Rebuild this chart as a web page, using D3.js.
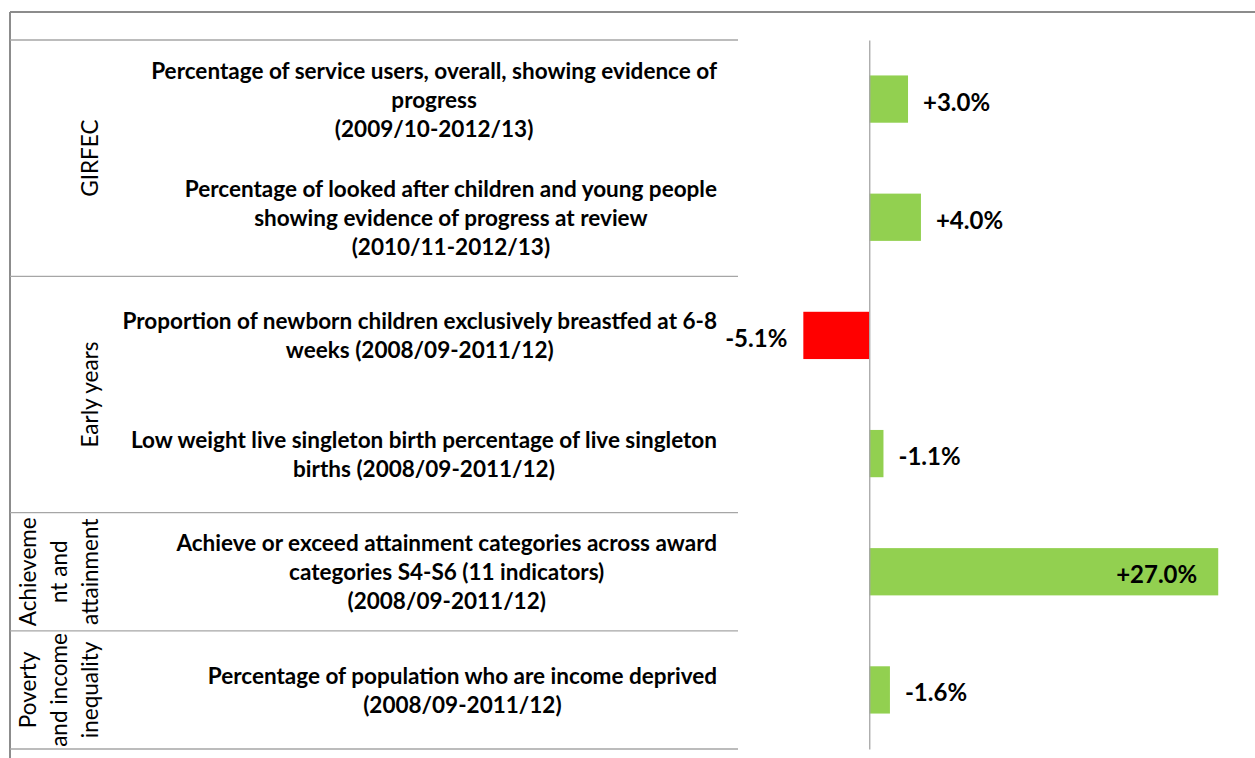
<!DOCTYPE html>
<html>
<head>
<meta charset="utf-8">
<script src="https://cdn.jsdelivr.net/npm/d3@7"></script>
<style>
  body { margin: 0; background: #fff; }
  text { font-family: Lato, "Open Sans", sans-serif; fill: #000; }
</style>
</head>
<body>
<div id="chart"></div>
<script>
// category labels, already wrapped the way the picture shows them
const categories = [
  ["Percentage of service users, overall, showing evidence of", "progress", "(2009/10-2012/13)"],
  ["Percentage of looked after children and young people", "showing evidence of progress at review", "(2010/11-2012/13)"],
  ["Proportion of newborn children exclusively breastfed at 6-8", "weeks (2008/09-2011/12)"],
  ["Low weight live singleton birth percentage of live singleton", "births (2008/09-2011/12)"],
  ["Achieve or exceed attainment categories across award", "categories S4-S6 (11 indicators)", "(2008/09-2011/12)"],
  ["Percentage of population who are income deprived", "(2008/09-2011/12)"]
];
// bar length = change in the good direction
const values = [3.0, 4.0, -5.1, 1.1, 27.0, 1.6];
const valueLabels = ["+3.0%", "+4.0%", "-5.1%", "-1.1%", "+27.0%", "-1.6%"];

const groupNames = [["GIRFEC"], ["Early years"], ["Achieveme", "nt and", "attainment"], ["Poverty", "and income", "inequality"]];
const groupSizes = [2, 2, 1, 1];

const xDomain = [-10, 30];

var W = 1255, H = 758;
var plot = { top: 40, bottom: 749, left: 740, right: 1257 };

var svg = d3.select("#chart").append("svg")
  .attr("width", W)
  .attr("height", H);

var x = d3.scaleLinear().domain(xDomain).range([plot.left, plot.right]);
var y = d3.scaleBand()
  .domain(d3.range(categories.length))
  .range([plot.top, plot.bottom])
  .paddingInner(0.6)
  .paddingOuter(0.3);
var step = y.step();

// outer frame (top and left only)
svg.append("line").attr("x1", 10).attr("x2", W).attr("y1", 12).attr("y2", 12)
  .attr("stroke", "#8c8c8c").attr("stroke-width", 2);
svg.append("line").attr("x1", 10).attr("x2", 10).attr("y1", 12).attr("y2", H)
  .attr("stroke", "#8c8c8c").attr("stroke-width", 2);

// group separators
var bounds = [0].concat(Array.from(d3.cumsum(groupSizes)));
svg.selectAll(".sep")
  .data(bounds)
  .enter().append("line")
  .attr("class", "sep")
  .attr("x1", 10).attr("x2", 738)
  .attr("y1", d => plot.top + d * step)
  .attr("y2", d => plot.top + d * step)
  .attr("stroke", "#a6a6a6")
  .attr("stroke-width", 1.3);

// bars
svg.selectAll(".bar")
  .data(values)
  .enter().append("rect")
  .attr("class", "bar")
  .attr("x", d => x(Math.min(0, d)))
  .attr("width", d => Math.abs(x(d) - x(0)))
  .attr("y", (d, i) => y(i))
  .attr("height", y.bandwidth())
  .attr("fill", d => d < 0 ? "#ff0000" : "#92d050");

// zero axis
svg.append("g")
  .attr("transform", "translate(" + x(0) + ",0)")
  .call(d3.axisLeft(y).tickSize(0).tickSizeOuter(0).tickFormat(""))
  .call(g => g.select(".domain").attr("stroke", "#a6a6a6").attr("stroke-width", 1.3));

// value labels
svg.selectAll(".val")
  .data(values)
  .enter().append("text")
  .attr("class", "val")
  .attr("font-weight", "bold")
  .attr("font-size", 24)
  .attr("dominant-baseline", "central")
  .attr("y", (d, i) => y(i) + y.bandwidth() / 2 + 2)
  .attr("x", d => {
    if (d < 0) return x(d) - 16;
    if (x(d) - x(0) > 200) return x(d) - 21;
    return x(d) + 15;
  })
  .attr("text-anchor", d => (d < 0 || x(d) - x(0) > 200) ? "end" : "start")
  .text((d, i) => valueLabels[i]);

// category labels: block right-aligned to 717, lines centred inside it
var catSize = 20;
var probe = svg.append("text").attr("font-weight", "bold").attr("font-size", 20).text(categories[0][0]);
catSize = 20 * 566 / probe.node().getComputedTextLength();
probe.remove();
var lineH = 29;

categories.forEach(function (lines, i) {
  var cy = y(i) + y.bandwidth() / 2;
  var g = svg.append("g");
  var t = g.selectAll("text")
    .data(lines)
    .enter().append("text")
    .attr("font-weight", "bold")
    .attr("font-size", catSize)
    .attr("text-anchor", "middle")
    .attr("dominant-baseline", "central")
    .attr("y", (d, k) => cy + (k - (lines.length - 1) / 2) * lineH)
    .text(d => d);
  var maxW = d3.max(t.nodes(), n => n.getComputedTextLength());
  t.attr("x", 717 - maxW / 2);
});

// group labels, rotated
groupNames.forEach(function (lines, gi) {
  var cy = plot.top + step * (bounds[gi] + groupSizes[gi] / 2);
  lines.forEach(function (s, k) {
    var cx = 89 - (lines.length - 1 - k) * 31;
    svg.append("text")
      .attr("transform", "translate(" + cx + "," + cy + ") rotate(-90)")
      .attr("font-size", catSize)
      .attr("text-anchor", "middle")
      .attr("dominant-baseline", "central")
      .text(s);
  });
});
</script>
</body>
</html>
